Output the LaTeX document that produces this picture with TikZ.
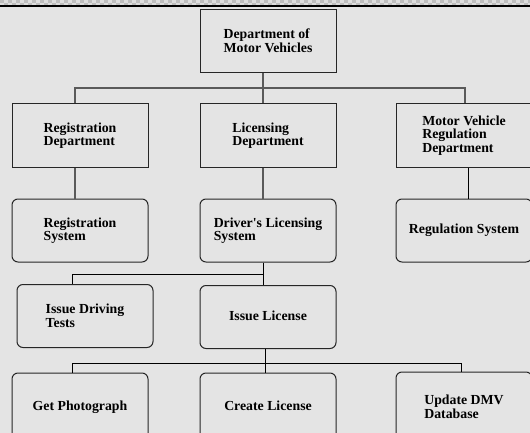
\documentclass[tikz,border=0pt]{standalone}
\usepackage{fontspec}
\setmainfont{Liberation Serif}
\definecolor{bg}{HTML}{E4E4E4}
\definecolor{chkA}{HTML}{BEBEBE}
\definecolor{chkB}{HTML}{DEDEDE}
\definecolor{busgray}{HTML}{5A5A5A}
\begin{document}
\begin{tikzpicture}[x=1pt,y=1pt,
  box/.style={draw=black!85,line width=1pt,fill=bg,minimum width=136pt,minimum height=63pt,
    inner sep=0pt,align=left,font=\fontsize{13.8}{13.6}\selectfont\bfseries},
  rbox/.style={box,rounded corners=6pt},
  lowbox/.style={rbox,minimum height=69pt},
  bus/.style={draw=busgray,line width=1.5pt},
  link/.style={draw=black,line width=1pt}]
\useasboundingbox (0,0) rectangle (530,-433);
\clip (0,0) rectangle (530,-433);
\fill[bg] (0,0) rectangle (530,-433);
% checkerboard strip
\foreach \i in {0,...,132}{
  \foreach \j in {0,1}{
    \pgfmathtruncatemacro{\chkpar}{mod(\i+\j,2)}
    \ifnum\chkpar=0 \fill[chkA] (\i*4,-\j*3) rectangle ++(4,-3);
    \else \fill[chkB] (\i*4,-\j*3) rectangle ++(4,-3); \fi
  }
}
\fill[black] (0,-5) rectangle (530,-7);
% row 1
\node[box] (dmv) at (268,-41) {Department of\\Motor Vehicles};
% row 2
\node[box] (reg) at (80,-135.5) {Registration\\Department};
\node[box] (lic) at (268,-135.5) {Licensing\\Department};
\node[box] (mvr) at (464,-135.5) {Motor Vehicle\\Regulation\\Department};
% row 3
\node[rbox] (regsys) at (80,-230.5) {Registration\\System};
\node[rbox] (dls) at (268,-230.5) {Driver\textquotesingle s Licensing\\System};
\node[rbox] (rsys) at (464,-230.5) {Regulation System};
% row 4
\node[rbox] (idt) at (85,-316) {Issue Driving\\Tests};
\node[rbox] (il) at (268,-317) {Issue License\vphantom{Jg}};
% row 5
\node[lowbox] (gp) at (80,-407.5) {Get Photograph};
\node[lowbox] (cl) at (268,-407.5) {Create License\vphantom{Jg}};
\node[lowbox] (ud) at (464,-406.5) {Update DMV\\Database};
% connectors
\draw[bus] ([xshift=-5pt]dmv.south) -- ([xshift=-5pt]lic.north);
\draw[bus] ([xshift=-5pt]dmv.south) -- ++(0,-15) -| ([xshift=-5pt]reg.north);
\draw[bus] ([xshift=-5pt]dmv.south) -- ++(0,-15) -| ([xshift=1pt]mvr.north);
\draw[bus,line width=1.2pt] ([xshift=-5pt]reg.south) -- ([xshift=-5pt]regsys.north);
\draw[bus,line width=1.2pt] ([xshift=-5pt]lic.south) -- ([xshift=-5pt]dls.north);
\draw[link] ([xshift=4pt]mvr.south) -- ([xshift=4pt]rsys.north);
\draw[link] ([xshift=-5pt]dls.south) -- ([xshift=-5pt]il.north);
\draw[link] ([xshift=-5pt]dls.south) -- ++(0,-12) -| ([xshift=-13pt]idt.north);
\draw[link] ([xshift=-3pt]il.south) -- ([xshift=-3pt]cl.north);
\draw[link] ([xshift=-3pt]il.south) -- ++(0,-14.5) -| ([xshift=-8pt]gp.north);
\draw[link] ([xshift=-3pt]il.south) -- ++(0,-14.5) -| ([xshift=-3pt]ud.north);
\end{tikzpicture}
\end{document}
